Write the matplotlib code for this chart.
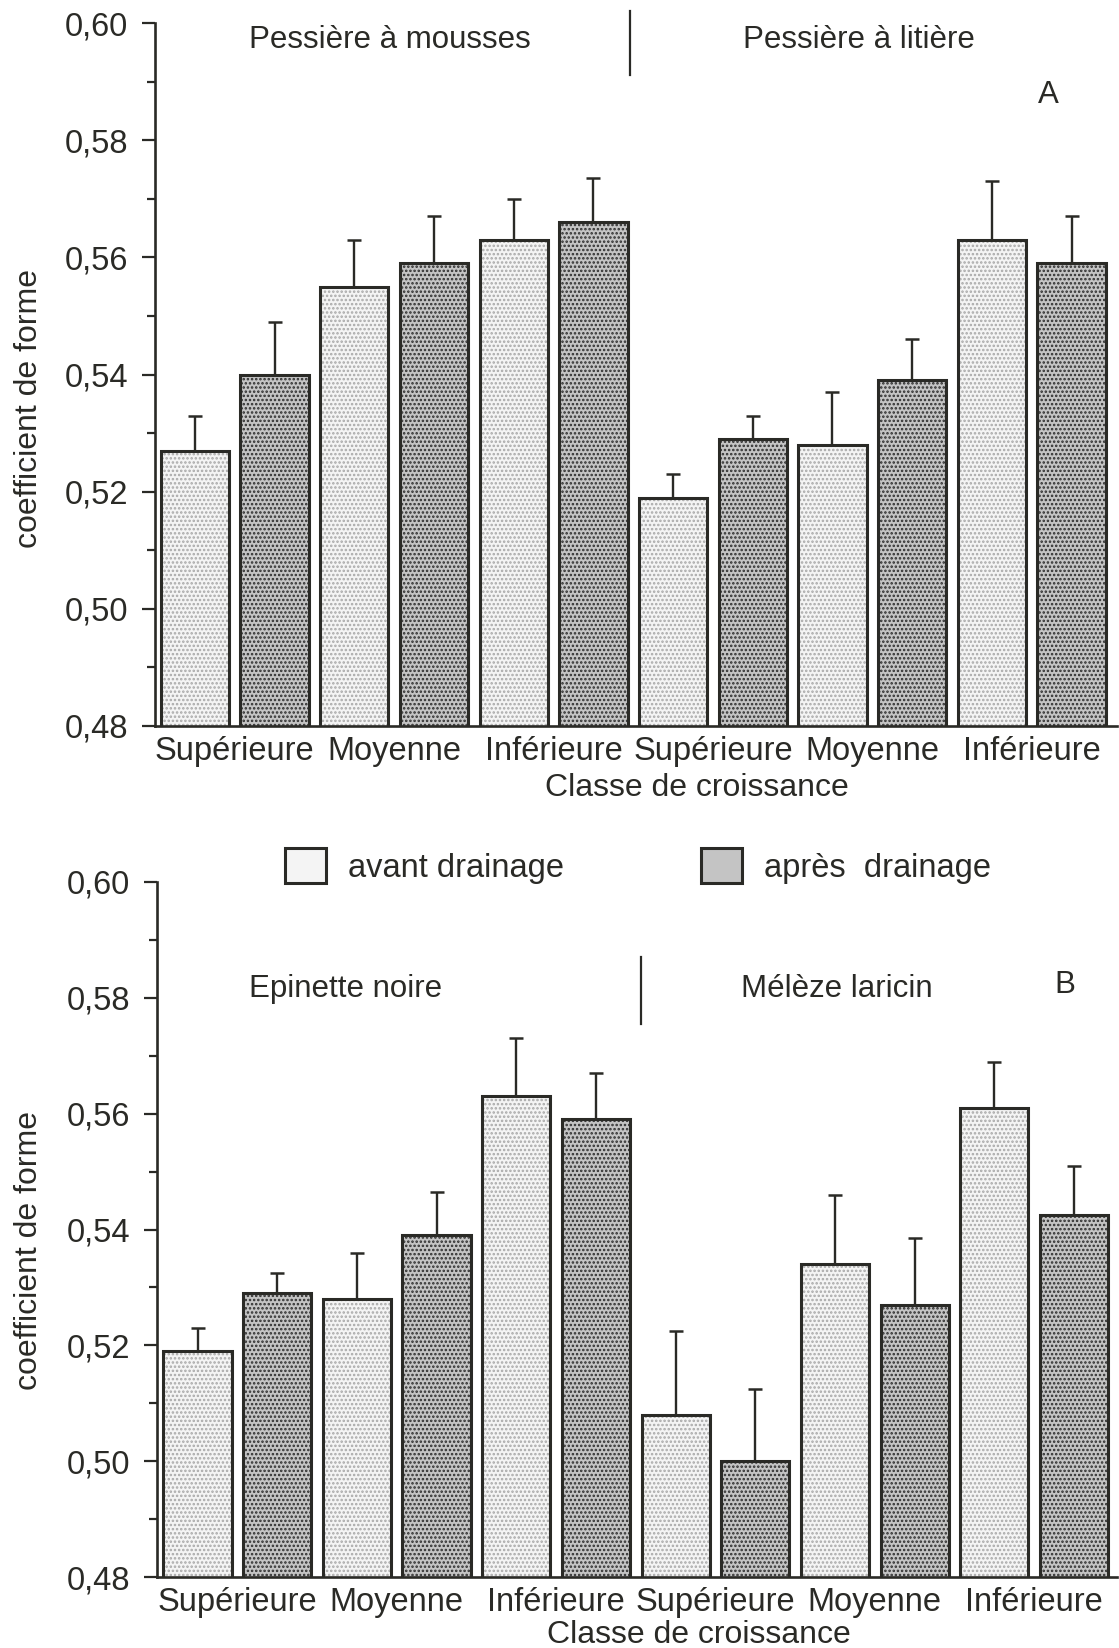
import numpy as np
import matplotlib
matplotlib.use('Agg')
import matplotlib.pyplot as plt
from matplotlib.lines import Line2D
from matplotlib.patches import Patch

plt.rcParams['font.family'] = ['Liberation Sans', 'DejaVu Sans']
plt.rcParams['hatch.linewidth'] = 1.2

ink = '#2a2a26'

# classes de croissance (3 par station)
classes = ['Supérieure', 'Moyenne', 'Inférieure', 'Supérieure', 'Moyenne', 'Inférieure']

# A : pessière à mousses / pessière à litière
avant_A = [0.527, 0.555, 0.563, 0.519, 0.528, 0.563]
apres_A = [0.540, 0.559, 0.566, 0.529, 0.539, 0.559]
err_avant_A = [0.006, 0.008, 0.007, 0.004, 0.009, 0.010]
err_apres_A = [0.009, 0.008, 0.0075, 0.004, 0.007, 0.008]

# B : épinette noire / mélèze laricin
avant_B = [0.519, 0.528, 0.563, 0.508, 0.534, 0.561]
apres_B = [0.529, 0.539, 0.559, 0.500, 0.527, 0.5425]
err_avant_B = [0.004, 0.008, 0.010, 0.0145, 0.012, 0.008]
err_apres_B = [0.0035, 0.0075, 0.008, 0.0125, 0.0115, 0.0085]

W, H = 1119, 1648
fig = plt.figure(figsize=(W / 100, H / 100), dpi=100)


def fx(px):
    return px / W


def fy(py):
    return 1 - py / H


sty_avant = dict(color='#f4f4f4', edgecolor='#a8a8a8', hatch='....', linewidth=0)
sty_apres = dict(color='#c4c4c4', edgecolor='#2e2e2e', hatch='....', linewidth=0)


def panel(rect, avant, apres, err_av, err_ap, xlim):
    ax = fig.add_axes(rect)
    n = len(avant)
    x_av = np.arange(n) * 2
    x_ap = x_av + 1
    w = 0.857
    ax.bar(x_av, avant, w, zorder=2, **sty_avant)
    ax.bar(x_ap, apres, w, zorder=2, **sty_apres)
    ax.bar(x_av, avant, w, fill=False, edgecolor=ink, linewidth=2.2, zorder=3)
    ax.bar(x_ap, apres, w, fill=False, edgecolor=ink, linewidth=2.2, zorder=3)
    ax.errorbar(x_av, avant, yerr=[np.zeros(n), err_av], fmt='none', ecolor=ink,
                elinewidth=1.7, capsize=5, capthick=1.8, zorder=4)
    ax.errorbar(x_ap, apres, yerr=[np.zeros(n), err_ap], fmt='none', ecolor=ink,
                elinewidth=1.7, capsize=5, capthick=1.8, zorder=4)

    ax.set_ylim(0.48, 0.60)
    ax.set_xlim(*xlim)
    yt = np.arange(0.48, 0.6001, 0.02)
    ax.set_yticks(yt, [f'{v:.2f}'.replace('.', ',') for v in yt])
    ax.set_yticks(np.arange(0.49, 0.60, 0.02), minor=True)
    ax.set_xticks(x_av + 0.5, classes)
    ax.tick_params(axis='y', which='major', length=9.5, width=1.6, pad=10,
                   labelsize=23.5, color=ink, labelcolor=ink)
    ax.tick_params(axis='y', which='minor', length=5.5, width=1.6, color=ink)
    ax.tick_params(axis='x', length=0, pad=7, labelsize=23.5, labelcolor=ink)
    for s in ['top', 'right']:
        ax.spines[s].set_visible(False)
    for s in ['left', 'bottom']:
        ax.spines[s].set_linewidth(1.9)
        ax.spines[s].set_color(ink)
    return ax


axA = panel([fx(155), fy(726), (1117 - 155) / W, (726 - 23) / H],
            avant_A, apres_A, err_avant_A, err_apres_A, (-0.50, 11.57))
axB = panel([fx(157), fy(1577), (1117 - 157) / W, (1577 - 882) / H],
            avant_B, apres_B, err_avant_B, err_apres_B, (-0.51, 11.54))

txt = dict(ha='center', va='center', color=ink)
fig.text(fx(390), fy(40), 'Pessière à mousses', fontsize=22.5, **txt)
fig.text(fx(859), fy(40), 'Pessière à litière', fontsize=22.5, **txt)
fig.text(fx(1048), fy(95), 'A', fontsize=22.5, **txt)
fig.add_artist(Line2D([fx(630)] * 2, [fy(11), fy(75)], transform=fig.transFigure,
                      color=ink, lw=1.6))

fig.text(fx(346), fy(989), 'Epinette noire', fontsize=22.5, **txt)
fig.text(fx(837), fy(989), 'Mélèze laricin', fontsize=22.5, **txt)
fig.text(fx(1065), fy(985), 'B', fontsize=22.5, **txt)
fig.add_artist(Line2D([fx(641)] * 2, [fy(957), fy(1024)], transform=fig.transFigure,
                      color=ink, lw=1.6))

for yc in (408, 1250):
    fig.text(fx(29), fy(yc), 'coefficient de forme', rotation=90, fontsize=23, **txt)
fig.text(fx(697), fy(788), 'Classe de croissance', fontsize=23, **txt)
fig.text(fx(699), fy(1635), 'Classe de croissance', fontsize=23, **txt)

# légende entre les deux graphiques
h_av = (Patch(**sty_avant), Patch(fill=False, edgecolor=ink, linewidth=2.2))
h_ap = (Patch(**sty_apres), Patch(fill=False, edgecolor=ink, linewidth=2.2))
leg = fig.legend([h_av, h_ap], ['avant drainage', 'après  drainage'], ncol=2,
                 loc='center left', bbox_to_anchor=(fx(285), fy(866)),
                 frameon=False, fontsize=23.5, borderpad=0, borderaxespad=0,
                 handlelength=1.25, handleheight=1.25, handletextpad=0.68,
                 columnspacing=4.2)
for t in leg.get_texts():
    t.set_color(ink)

fig.savefig('out.png', dpi=100)
